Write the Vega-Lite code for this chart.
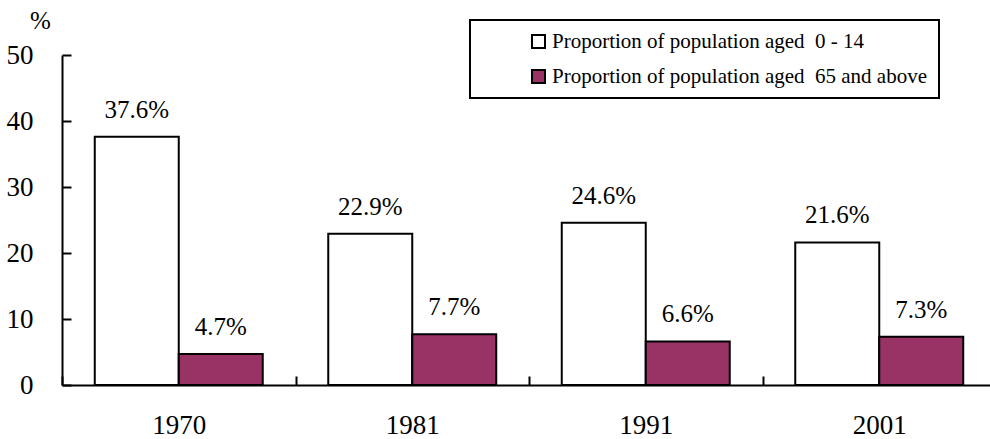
{
  "$schema": "https://vega.github.io/schema/vega-lite/v6.json",
  "width": 934,
  "height": 330,
  "autosize": {"type": "none"},
  "padding": {"left": 62, "top": 55, "right": 0, "bottom": 54},
  "background": "white",
  "config": {"view": {"stroke": null}, "font": "Liberation Serif", "legend": {"strokeWidth": 2}, "text": {"font": "Liberation Serif"}},
  "data": {
    "values": [
      {"year": "1970", "group": "Proportion of population aged\u00a0 0 - 14", "value": 37.6},
      {"year": "1970", "group": "Proportion of population aged\u00a0 65 and above", "value": 4.7},
      {"year": "1981", "group": "Proportion of population aged\u00a0 0 - 14", "value": 22.9},
      {"year": "1981", "group": "Proportion of population aged\u00a0 65 and above", "value": 7.7},
      {"year": "1991", "group": "Proportion of population aged\u00a0 0 - 14", "value": 24.6},
      {"year": "1991", "group": "Proportion of population aged\u00a0 65 and above", "value": 6.6},
      {"year": "2001", "group": "Proportion of population aged\u00a0 0 - 14", "value": 21.6},
      {"year": "2001", "group": "Proportion of population aged\u00a0 65 and above", "value": 7.3}
    ]
  },
  "encoding": {
    "x": {
      "field": "year",
      "type": "nominal",
      "scale": {"paddingInner": 0, "paddingOuter": 0},
      "axis": {
        "title": null,
        "labelAngle": 0,
        "labelFont": "Liberation Serif",
        "labelFontSize": 27,
        "labelColor": "black",
        "domainColor": "black",
        "domainWidth": 2,
        "tickColor": "black",
        "tickWidth": 2,
        "tickSize": -9,
        "tickBand": "extent",
        "labelPadding": 36,
        "grid": false
      }
    },
    "xOffset": {
      "field": "group",
      "type": "nominal",
      "scale": {"paddingInner": 0, "paddingOuter": 0.39}
    },
    "y": {
      "field": "value",
      "type": "quantitative",
      "scale": {"domain": [0, 50], "nice": false},
      "axis": {
        "values": [0, 10, 20, 30, 40, 50],
        "title": "%",
        "titleAngle": 0,
        "titleFont": "Liberation Serif",
        "titleFontSize": 25,
        "titleFontWeight": "normal",
        "titleColor": "black",
        "titleX": -22,
        "titleY": -27,
        "titleAlign": "center",
        "titleBaseline": "alphabetic",
        "labelFont": "Liberation Serif",
        "labelFontSize": 27,
        "labelColor": "black",
        "domainColor": "black",
        "domainWidth": 2,
        "tickColor": "black",
        "tickWidth": 2,
        "tickSize": -9,
        "labelPadding": 38,
        "grid": false
      }
    }
  },
  "layer": [
    {
      "mark": {"type": "bar", "stroke": "black", "strokeWidth": 2},
      "encoding": {
        "fill": {
          "field": "group",
          "type": "nominal",
          "scale": {"range": ["white", "#993366"]},
          "legend": {
            "title": null,
            "orient": "none",
            "legendX": 408,
            "legendY": -35,
            "padding": 11,
            "strokeColor": "black",
            "fillColor": "white",
            "symbolType": "square",
            "symbolSize": 169,
            "symbolStrokeColor": "black",
            "symbolStrokeWidth": 2,
            "symbolOffset": 47,
            "labelFont": "Liberation Serif",
            "labelFontSize": 21,
            "labelColor": "black",
            "labelOffset": 3,
            "labelLimit": 700,
            "rowPadding": 13
          }
        }
      }
    },
    {
      "transform": [{"calculate": "format(datum.value, '.1f') + '%'", "as": "label"}],
      "mark": {"type": "text", "baseline": "alphabetic", "dy": -19, "fontSize": 25, "font": "Liberation Serif", "color": "black"},
      "encoding": {"text": {"field": "label"}}
    }
  ]
}
